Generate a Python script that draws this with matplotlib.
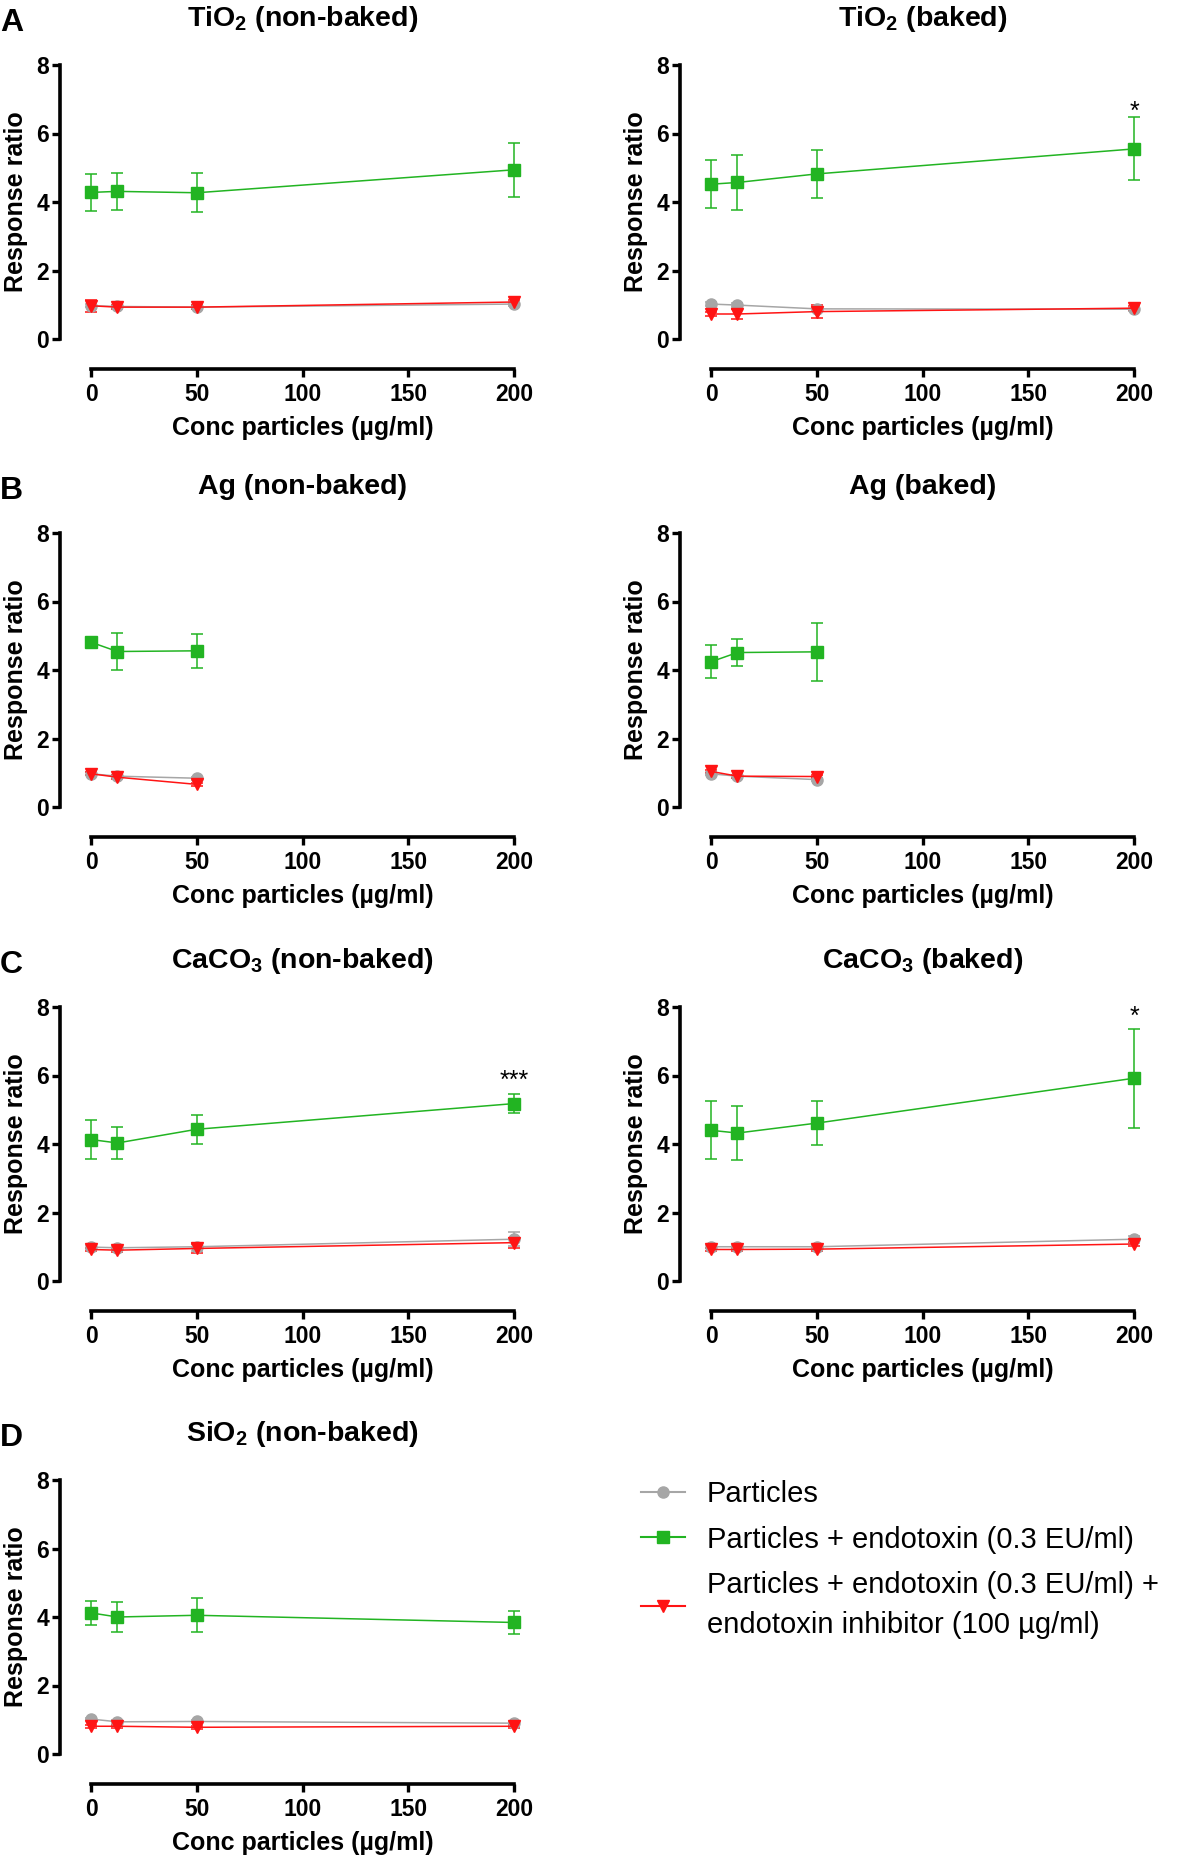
import matplotlib
matplotlib.use('Agg')
import matplotlib.pyplot as plt
from matplotlib.lines import Line2D

plt.rcParams['font.family'] = ['Liberation Sans', 'DejaVu Sans']
plt.rcParams['mathtext.fontset'] = 'custom'
plt.rcParams['mathtext.rm'] = 'Liberation Sans:bold'
plt.rcParams['mathtext.bf'] = 'Liberation Sans:bold'
plt.rcParams['mathtext.it'] = 'Liberation Sans:bold'

# concentrations (ug/ml)
conc = [0, 12.5, 50, 200]
conc_ag = [0, 12.5, 50]

# TiO2 non-baked
tio2_nb_particles = [0.97, 0.95, 0.93, 1.02]
tio2_nb_particles_err = [0.05, 0.05, 0.05, 0.06]
tio2_nb_endo = [4.28, 4.31, 4.27, 4.94]
tio2_nb_endo_err = [0.55, 0.54, 0.57, 0.79]
tio2_nb_inhib = [0.97, 0.93, 0.93, 1.08]
tio2_nb_inhib_err = [0.17, 0.05, 0.05, 0.06]

# TiO2 baked
tio2_b_particles = [1.02, 0.99, 0.88, 0.87]
tio2_b_particles_err = [0.05, 0.05, 0.05, 0.04]
tio2_b_endo = [4.52, 4.57, 4.82, 5.55]
tio2_b_endo_err = [0.70, 0.80, 0.69, 0.92]
tio2_b_inhib = [0.73, 0.73, 0.80, 0.90]
tio2_b_inhib_err = [0.05, 0.15, 0.20, 0.05]

# Ag non-baked
ag_nb_particles = [0.97, 0.90, 0.84]
ag_nb_particles_err = [0.04, 0.04, 0.04]
ag_nb_endo = [4.81, 4.54, 4.56]
ag_nb_endo_err = [0.05, 0.55, 0.50]
ag_nb_inhib = [0.97, 0.87, 0.66]
ag_nb_inhib_err = [0.04, 0.05, 0.04]

# Ag baked
ag_b_particles = [0.97, 0.90, 0.80]
ag_b_particles_err = [0.04, 0.04, 0.04]
ag_b_endo = [4.24, 4.51, 4.53]
ag_b_endo_err = [0.48, 0.40, 0.85]
ag_b_inhib = [1.04, 0.90, 0.89]
ag_b_inhib_err = [0.05, 0.04, 0.04]

# CaCO3 non-baked
caco3_nb_particles = [0.99, 0.97, 1.00, 1.22]
caco3_nb_particles_err = [0.05, 0.05, 0.12, 0.20]
caco3_nb_endo = [4.13, 4.03, 4.43, 5.18]
caco3_nb_endo_err = [0.57, 0.47, 0.42, 0.27]
caco3_nb_inhib = [0.92, 0.90, 0.95, 1.12]
caco3_nb_inhib_err = [0.05, 0.05, 0.12, 0.15]

# CaCO3 baked
caco3_b_particles = [1.00, 1.00, 1.00, 1.22]
caco3_b_particles_err = [0.04, 0.04, 0.04, 0.10]
caco3_b_endo = [4.40, 4.32, 4.61, 5.92]
caco3_b_endo_err = [0.85, 0.80, 0.65, 1.44]
caco3_b_inhib = [0.92, 0.92, 0.93, 1.08]
caco3_b_inhib_err = [0.04, 0.04, 0.05, 0.05]

# SiO2 non-baked
sio2_particles = [1.02, 0.94, 0.95, 0.90]
sio2_particles_err = [0.04, 0.04, 0.04, 0.04]
sio2_endo = [4.12, 4.00, 4.05, 3.84]
sio2_endo_err = [0.36, 0.44, 0.50, 0.33]
sio2_inhib = [0.81, 0.81, 0.78, 0.81]
sio2_inhib_err = [0.04, 0.04, 0.04, 0.04]

series_labels = ['Particles',
                 'Particles + endotoxin (0.3 EU/ml)',
                 'Particles + endotoxin (0.3 EU/ml) +\nendotoxin inhibitor (100 µg/ml)']
series_colors = ['#a6a6a6', '#22b422', '#ff1414']
series_markers = ['o', 's', 'v']

W, H = 1200, 1857
fig = plt.figure(figsize=(W / 100, H / 100), dpi=100)


def make_ax(left_px, top_px, right_px, bottom_px):
    return fig.add_axes([left_px / W, 1 - bottom_px / H,
                         (right_px - left_px) / W, (bottom_px - top_px) / H])


def draw_panel(ax, x, data, title, letter=None, star=None):
    for (mean, err), color, marker in zip(data, series_colors, series_markers):
        h = ax.errorbar(x, mean, yerr=err, color=color, marker=marker, ms=8,
                        lw=1.1, elinewidth=1.1, capsize=4, capthick=1.1,
                        clip_on=False)
        for art in h.lines[1] + h.lines[2]:
            art.set_clip_on(False)
    ax.set_xlim(0, 200)
    ax.set_ylim(0, 8)
    ax.set_xticks([0, 50, 100, 150, 200])
    ax.set_yticks([0, 2, 4, 6, 8])
    for s in ['top', 'right']:
        ax.spines[s].set_visible(False)
    ax.spines['left'].set_position(('outward', 22.5))
    ax.spines['bottom'].set_position(('outward', 21.5))
    ax.spines['left'].set_bounds(0, 8)
    ax.spines['bottom'].set_bounds(0, 200)
    for s in ['left', 'bottom']:
        ax.spines[s].set_linewidth(2.6)
    ax.tick_params(width=2.4, length=5.5, labelsize=16.5)
    ax.tick_params(axis='y', pad=2)
    ax.tick_params(axis='x', pad=5)
    for lab in ax.get_xticklabels() + ax.get_yticklabels():
        lab.set_fontweight('bold')
    ax.set_xlabel('Conc particles (µg/ml)', fontsize=18, fontweight='bold')
    ax.set_ylabel('Response ratio', fontsize=18, fontweight='bold')
    ax.xaxis.set_label_coords(0.5, -0.28)
    ax.yaxis.set_label_coords(-0.148, 0.5)
    ax.text(0.5, 1.143, title, transform=ax.transAxes, ha='center', va='baseline',
            fontsize=20.5, fontweight='bold')
    if letter:
        ax.text(-0.215, 1.125, letter, transform=ax.transAxes, ha='left', va='baseline',
                fontsize=23, fontweight='bold')
    if star:
        ax.annotate(star[0], xy=(200, star[1]), xytext=(0, -10), textcoords='offset points',
                    ha='center', va='baseline', fontsize=18, annotation_clip=False)


L = (91, 514)
R = (711, 1134)
rows = [(65, 339), (533, 807), (1007, 1281), (1480, 1754)]

ax = make_ax(L[0], rows[0][0], L[1], rows[0][1])
draw_panel(ax, conc, [(tio2_nb_particles, tio2_nb_particles_err),
                      (tio2_nb_endo, tio2_nb_endo_err),
                      (tio2_nb_inhib, tio2_nb_inhib_err)],
           'TiO$_2$ (non-baked)', 'A')
ax = make_ax(R[0], rows[0][0], R[1], rows[0][1])
draw_panel(ax, conc, [(tio2_b_particles, tio2_b_particles_err),
                      (tio2_b_endo, tio2_b_endo_err),
                      (tio2_b_inhib, tio2_b_inhib_err)],
           'TiO$_2$ (baked)', star=('*', 6.83))

ax = make_ax(L[0], rows[1][0], L[1], rows[1][1])
draw_panel(ax, conc_ag, [(ag_nb_particles, ag_nb_particles_err),
                         (ag_nb_endo, ag_nb_endo_err),
                         (ag_nb_inhib, ag_nb_inhib_err)],
           'Ag (non-baked)', 'B')
ax = make_ax(R[0], rows[1][0], R[1], rows[1][1])
draw_panel(ax, conc_ag, [(ag_b_particles, ag_b_particles_err),
                         (ag_b_endo, ag_b_endo_err),
                         (ag_b_inhib, ag_b_inhib_err)],
           'Ag (baked)')

ax = make_ax(L[0], rows[2][0], L[1], rows[2][1])
draw_panel(ax, conc, [(caco3_nb_particles, caco3_nb_particles_err),
                      (caco3_nb_endo, caco3_nb_endo_err),
                      (caco3_nb_inhib, caco3_nb_inhib_err)],
           'CaCO$_3$ (non-baked)', 'C', star=('***', 6.05))
ax = make_ax(R[0], rows[2][0], R[1], rows[2][1])
draw_panel(ax, conc, [(caco3_b_particles, caco3_b_particles_err),
                      (caco3_b_endo, caco3_b_endo_err),
                      (caco3_b_inhib, caco3_b_inhib_err)],
           'CaCO$_3$ (baked)', star=('*', 7.92))

ax = make_ax(L[0], rows[3][0], L[1], rows[3][1])
draw_panel(ax, conc, [(sio2_particles, sio2_particles_err),
                      (sio2_endo, sio2_endo_err),
                      (sio2_inhib, sio2_inhib_err)],
           'SiO$_2$ (non-baked)', 'D')

handles = [Line2D([], [], color=c, marker=m, ms=8, lw=1.5)
           for c, m in zip(series_colors, series_markers)]
leg = fig.legend(handles, series_labels, loc='upper left',
                 bbox_to_anchor=(641 / W, 1 - 1480 / H), frameon=False,
                 fontsize=21, handlelength=1.5, handletextpad=0.75,
                 labelspacing=0.6, borderpad=0, borderaxespad=0)
leg.get_texts()[2].set_linespacing(1.56)

fig.savefig('out.png', dpi=100)
